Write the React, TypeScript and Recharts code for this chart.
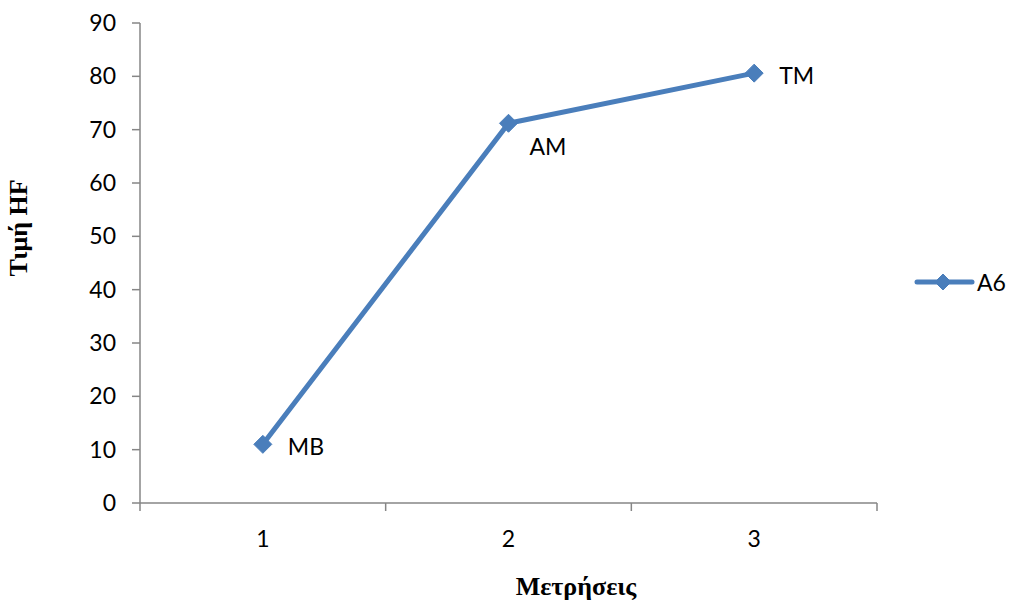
import { LineChart, Line, XAxis, YAxis, LabelList } from "recharts";

// ─── Data ──────────────────────────────────────────────────────────────────
const measurements = [1, 2, 3];
const hfValues = [11, 71.2, 80.6];
const pointLabels = ["MB", "AM", "TM"];
const yTicks = [0, 10, 20, 30, 40, 50, 60, 70, 80, 90];
// tick marks sit between categories, labels on the categories
const xTicks = [0.5, 1, 1.5, 2, 2.5, 3, 3.5];

const data = measurements.map((m, i) => ({
  m,
  hf: hfValues[i],
  label: pointLabels[i],
}));

const BLUE = "#4a7ebb";
const AXIS = "#868686";
const FONT = "Lato, 'Open Sans', sans-serif";
const SERIF = "'Liberation Serif', 'DejaVu Serif', serif";

function Diamond({ cx, cy, size = 9 }: any) {
  if (cx == null || cy == null) return null;
  const r = size;
  return (
    <polygon
      points={`${cx},${cy - r} ${cx + r},${cy} ${cx},${cy + r} ${cx - r},${cy}`}
      fill={BLUE}
      stroke={BLUE}
    />
  );
}

const XTick = ({ x, y, payload }: any) => {
  const v = payload.value;
  if (Number.isInteger(v)) {
    return (
      <text x={x} y={y + 36} textAnchor="middle" fontSize={23} fontFamily={FONT} fill="#000">
        {v}
      </text>
    );
  }
  return <line x1={x} x2={x} y1={y - 8} y2={y} stroke={AXIS} strokeWidth={1.5} />;
};

// Excel nudged the middle label below the point
const PointLabel = ({ x, y, index, value }: any) => {
  const below = index === 1;
  return (
    <text
      x={x + (below ? 21 : 25)}
      y={y + (below ? 32 : 11)}
      fontSize={23}
      fontFamily={FONT}
      fill="#000"
    >
      {value}
    </text>
  );
};

export default function App() {
  return (
    <div style={{ position: "absolute", left: 0, top: 0, width: 1009, height: 608, background: "#fff" }}>
      <LineChart
        width={1009}
        height={608}
        data={data}
        margin={{ top: 23, right: 132, bottom: 0, left: 0 }}
      >
        <XAxis
          dataKey="m"
          type="number"
          domain={[0.5, 3.5]}
          ticks={xTicks}
          interval={0}
          height={105}
          tickSize={8}
          tickMargin={0}
          tickLine={false}
          axisLine={{ stroke: AXIS, strokeWidth: 1.5 }}
          tick={<XTick />}
        />
        <YAxis
          domain={[0, 90]}
          ticks={yTicks}
          interval={0}
          width={140}
          tickSize={8}
          tickMargin={16}
          axisLine={{ stroke: AXIS, strokeWidth: 1.5 }}
          tickLine={{ stroke: AXIS, strokeWidth: 1.5 }}
          tick={{ fontSize: 23, fontFamily: FONT, fill: "#000" }}
        />
        <Line
          dataKey="hf"
          name="A6"
          type="linear"
          stroke={BLUE}
          strokeWidth={5}
          dot={<Diamond size={9} />}
          activeDot={false}
          isAnimationActive={false}
        >
          <LabelList dataKey="label" content={<PointLabel />} />
        </Line>
      </LineChart>

      {/* axis titles */}
      <div
        style={{
          position: "absolute",
          left: 19,
          top: 228,
          transform: "translate(-50%, -50%) rotate(-90deg)",
          fontFamily: SERIF,
          fontWeight: "bold",
          fontSize: 26,
          whiteSpace: "nowrap",
        }}
      >
        Τιμή HF
      </div>
      <div
        style={{
          position: "absolute",
          left: 576,
          top: 587,
          transform: "translate(-50%, -50%)",
          fontFamily: SERIF,
          fontWeight: "bold",
          fontSize: 26,
          whiteSpace: "nowrap",
        }}
      >
        Μετρήσεις
      </div>

      {/* legend */}
      <div style={{ position: "absolute", left: 913, top: 268, display: "flex", alignItems: "center" }}>
        <svg width={62} height={28}>
          <line x1={4} x2={59} y1={14} y2={14} stroke={BLUE} strokeWidth={5} strokeLinecap="round" />
          <Diamond cx={30} cy={14} size={8} />
        </svg>
        <span style={{ fontFamily: FONT, fontSize: 23, marginLeft: 2 }}>A6</span>
      </div>
    </div>
  );
}
